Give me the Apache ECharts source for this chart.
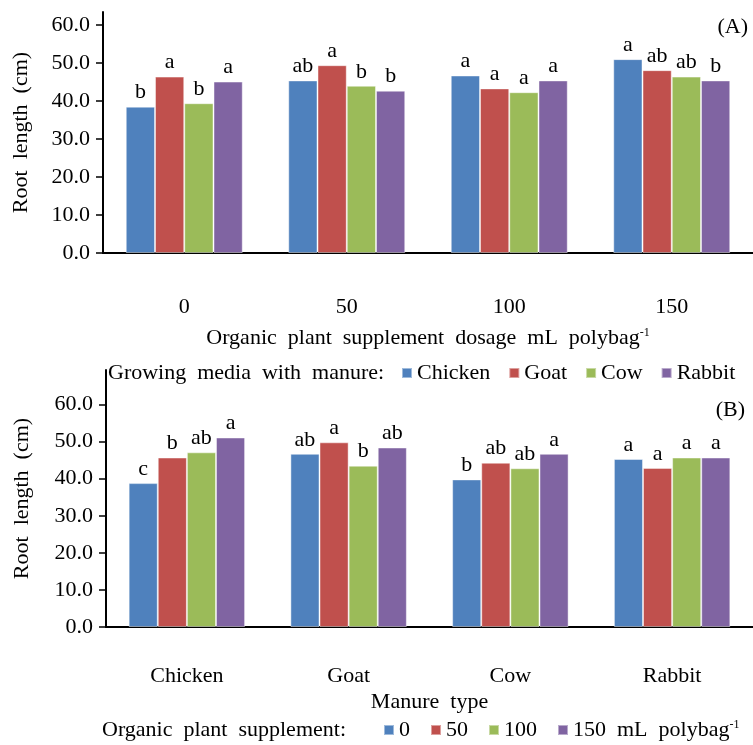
<!DOCTYPE html>
<html>
<head>
<meta charset="utf-8">
<script src="https://cdn.jsdelivr.net/npm/echarts@6/dist/echarts.min.js"></script>
<style>html,body{margin:0;padding:0;background:#fff}#c{width:753px;height:745px}</style>
</head>
<body>
<div id="c"></div>
<script>
// Panel A: root length by dosage, series = manure type
const dosageCats = ['0', '50', '100', '150'];
const manureNames = ['Chicken', 'Goat', 'Cow', 'Rabbit'];
const chickenA = [38.5, 45.4, 46.7, 51.0];
const goatA    = [46.4, 49.4, 43.3, 48.1];
const cowA     = [39.4, 44.0, 42.3, 46.4];
const rabbitA  = [45.1, 42.7, 45.4, 45.4];
const lettersA = [
  ['b', 'ab', 'a', 'a'],
  ['a', 'a', 'a', 'ab'],
  ['b', 'b', 'a', 'ab'],
  ['a', 'b', 'a', 'b']
];
// Panel B: root length by manure type, series = dosage
const manureCats = ['Chicken', 'Goat', 'Cow', 'Rabbit'];
const dosageNames = ['0', '50', '100', '150'];
const d0B   = [38.8, 46.7, 39.8, 45.3];
const d50B  = [45.7, 49.8, 44.3, 42.9];
const d100B = [47.1, 43.5, 42.8, 45.7];
const d150B = [51.1, 48.4, 46.7, 45.7];
const lettersB = [
  ['c', 'ab', 'b', 'a'],
  ['b', 'a', 'ab', 'a'],
  ['ab', 'b', 'ab', 'a'],
  ['a', 'ab', 'a', 'a']
];
const yTicks = [0, 10, 20, 30, 40, 50, 60];

const colors = ['#4F81BD', '#C0504D', '#9BBB59', '#8064A2'];
const FONT = '"Liberation Serif", "Times New Roman", serif';
const FS = 22;

const chart = echarts.init(document.getElementById('c'), null, {renderer: 'canvas'});

function yAxisCfg(gridIndex, max) {
  return {
    type: 'value', gridIndex: gridIndex, min: 0, max: max,
    name: 'Root  length  (cm)', nameLocation: 'middle',
    nameGap: gridIndex === 0 ? 71 : 73,
    nameTextStyle: {fontFamily: FONT, fontSize: FS, color: '#000'},
    axisLine: {show: true, lineStyle: {color: '#000', width: 2}},
    axisTick: {show: true, inside: false, length: 7, lineStyle: {color: '#000', width: 1.5}, customValues: yTicks},
    axisLabel: {fontFamily: FONT, fontSize: FS, color: '#000', margin: 13, customValues: yTicks,
      formatter: v => v.toFixed(1)},
    splitLine: {show: false}
  };
}
const richSup = {sup: {fontFamily: FONT, fontSize: 12, color: '#000', padding: [0, 0, 10, 0]}};

function barSeries(name, data, letters, xi, yi, ci) {
  return {
    type: 'bar', name: name, data: data, xAxisIndex: xi, yAxisIndex: yi,
    barGap: '0%', barCategoryGap: '28%',
    itemStyle: {color: colors[ci], borderColor: 'rgba(255,255,255,0.45)', borderWidth: 1},
    label: {show: true, position: 'top', distance: 3, fontFamily: FONT, fontSize: FS, color: '#000',
      formatter: p => letters[p.dataIndex]},
    emphasis: {disabled: true}
  };
}

chart.setOption({
  animation: false,
  color: colors,
  textStyle: {fontFamily: FONT},
  grid: [
    {left: 103, top: 12, width: 654, height: 241},
    {left: 106, top: 370, width: 652, height: 257}
  ],
  xAxis: [
    {type: 'category', gridIndex: 0, data: dosageCats,
     name: 'Organic  plant  supplement  dosage  mL  polybag{sup|-1}', nameLocation: 'middle', nameGap: 74,
     nameTextStyle: {fontFamily: FONT, fontSize: FS, color: '#000', rich: richSup},
     axisLine: {lineStyle: {color: '#000', width: 2}}, axisTick: {show: false},
     axisLabel: {fontFamily: FONT, fontSize: FS, color: '#000', margin: 43}},
    {type: 'category', gridIndex: 1, data: manureCats,
     name: 'Manure  type', nameLocation: 'middle', nameGap: 64,
     nameTextStyle: {fontFamily: FONT, fontSize: FS, color: '#000'},
     axisLine: {lineStyle: {color: '#000', width: 2}}, axisTick: {show: false},
     axisLabel: {fontFamily: FONT, fontSize: FS, color: '#000', margin: 38}}
  ],
  yAxis: [yAxisCfg(0, 63.4), yAxisCfg(1, 69.3)],
  legend: [
    {data: manureNames, left: 401, top: 362, padding: 0, itemWidth: 10, itemHeight: 10, itemGap: 18,
     icon: 'rect', selectedMode: false,
     textStyle: {fontFamily: FONT, fontSize: FS, color: '#000'}},
    {data: dosageNames, left: 383, top: 719, padding: 0, itemWidth: 10, itemHeight: 10, itemGap: 20,
     icon: 'rect', selectedMode: false,
     formatter: n => n === '150' ? '150  mL  polybag{sup|-1}' : n,
     textStyle: {fontFamily: FONT, fontSize: FS, color: '#000', rich: richSup}}
  ],
  graphic: [
    {type: 'text', left: 108, top: 362, style: {text: 'Growing  media  with  manure:', font: FS + 'px ' + FONT, fill: '#000'}},
    {type: 'text', left: 102, top: 719, style: {text: 'Organic  plant  supplement:', font: FS + 'px ' + FONT, fill: '#000'}},
    {type: 'text', right: 5, top: 16, style: {text: '(A)', font: FS + 'px ' + FONT, fill: '#000'}},
    {type: 'text', right: 8, top: 399, style: {text: '(B)', font: FS + 'px ' + FONT, fill: '#000'}}
  ],
  series: [
    barSeries('Chicken', chickenA, lettersA[0], 0, 0, 0),
    barSeries('Goat', goatA, lettersA[1], 0, 0, 1),
    barSeries('Cow', cowA, lettersA[2], 0, 0, 2),
    barSeries('Rabbit', rabbitA, lettersA[3], 0, 0, 3),
    barSeries('0', d0B, lettersB[0], 1, 1, 0),
    barSeries('50', d50B, lettersB[1], 1, 1, 1),
    barSeries('100', d100B, lettersB[2], 1, 1, 2),
    barSeries('150', d150B, lettersB[3], 1, 1, 3)
  ]
});
</script>
</body>
</html>
